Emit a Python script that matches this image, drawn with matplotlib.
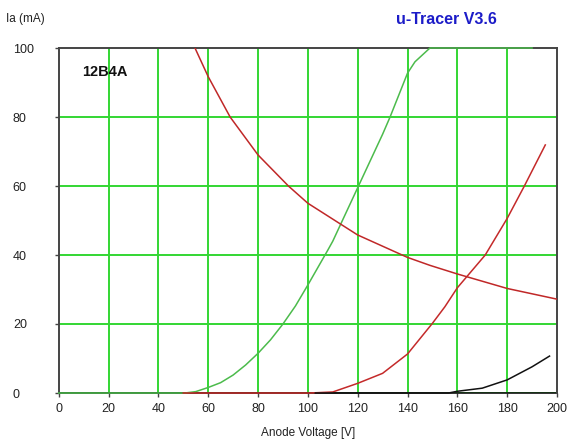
import matplotlib
matplotlib.use("Agg")
import matplotlib.pyplot as plt

# Data
green_v = [0, 50.7, 55, 60, 65, 70, 75, 80, 85, 90, 95, 100, 108, 110, 120, 130, 133, 140, 143, 149, 190]
green_i = [0, 0, 0.4, 1.6, 3.0, 5.2, 8.1, 11.5, 15.4, 20, 25.2, 31.3, 41.4, 44, 59.5, 75, 80, 92.7, 96, 100, 100]

red_v = [50, 101, 110, 120, 130, 140, 150, 155, 160, 171.2, 180, 186.9, 195.3]
red_i = [0, 0, 0.3, 2.8, 5.7, 11.3, 20.2, 25, 30.5, 40, 50.6, 60, 71.9]

black_v = [103, 156.5, 160, 170, 180, 190, 197]
black_i = [0, 0, 0.5, 1.4, 3.8, 7.6, 10.7]

pmax_v = [54.7, 60, 68.8, 80, 92.2, 100, 120, 140, 149, 160, 180, 200]
pmax_i = [100, 91.7, 80, 69, 60, 55, 45.8, 39.3, 37.0, 34.5, 30.3, 27.2]

x_ticks = [0, 20, 40, 60, 80, 100, 120, 140, 160, 180, 200]
y_ticks = [0, 20, 40, 60, 80, 100]

plt.rcParams['font.family'] = ['Liberation Sans', 'DejaVu Sans']

fig = plt.figure(figsize=(5.79, 4.44), dpi=100)
ax = fig.add_axes([58.7 / 579, 1 - 393 / 444, (557 - 58.7) / 579, (393 - 48) / 444])

ax.set_xlim(0, 200)
ax.set_ylim(0, 100)
ax.set_xticks(x_ticks)
ax.set_yticks(y_ticks)

grid_col = '#33d633'
for v in x_ticks[1:-1]:
    ax.axvline(v, color=grid_col, lw=1.4, zorder=1)
for v in y_ticks[:-1]:
    ax.axhline(v, color=grid_col, lw=1.4, zorder=1)

ax.plot(green_v, green_i, color='#4cbb4c', lw=1.1, zorder=3, clip_on=False)
ax.plot(pmax_v, pmax_i, color='#c02828', lw=1.1, zorder=3)
ax.plot(red_v, red_i, color='#c42a2a', lw=1.1, zorder=4, clip_on=False)
ax.plot(black_v, black_i, color='#111111', lw=1.1, zorder=5, clip_on=False)

for s in ['top', 'left', 'right']:
    ax.spines[s].set_color('#444444')
    ax.spines[s].set_linewidth(1.4)
ax.spines['bottom'].set_color('#111111')
ax.spines['bottom'].set_linewidth(1.2)
ax.spines['bottom'].set_zorder(2)

ax.tick_params(axis='x', direction='out', length=3, width=1, color='#444444',
               labelsize=9, labelcolor='#222222', pad=4)
ax.tick_params(axis='y', direction='out', length=3, width=1, color='#444444',
               labelsize=9, labelcolor='#222222', pad=30)
for lab in ax.get_yticklabels():
    lab.set_horizontalalignment('left')

fig.text(308 / 579, 1 - 433 / 444, 'Anode Voltage [V]', ha='center', va='center',
         fontsize=8.5, color='#222222')
fig.text(6 / 579, 1 - 19 / 444, 'Ia (mA)', ha='left', va='center',
         fontsize=8.5, color='#222222')
fig.text(446 / 579, 1 - 20 / 444, 'u-Tracer V3.6', ha='center', va='center',
         fontsize=11.5, fontweight='bold', color='#1c1cc8')
ax.text(82 / 579, 1 - 72 / 444, '12B4A', transform=fig.transFigure, ha='left',
        va='center', fontsize=10.5, fontweight='bold', color='#111111')

fig.savefig('out.png', dpi=100, facecolor='white')
